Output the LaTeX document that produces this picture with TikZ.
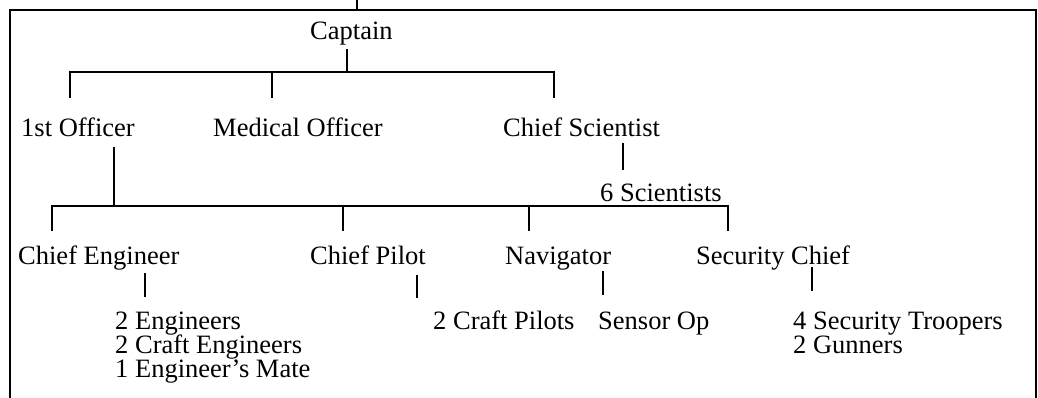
\documentclass[tikz,border=0pt]{standalone}
\usepackage{fontspec}
\setmainfont{Liberation Serif}
\begin{document}
\begin{tikzpicture}[x=1pt,y=-1pt,
  lbl/.style={anchor=base west, inner sep=0pt, font=\fontsize{26.5}{24}\selectfont},
  link/.style={line width=2pt, draw=black},
  frame/.style={line width=2.2pt, draw=black}]
\useasboundingbox (0,0) rectangle (1038,398);
% frame, open at the bottom
\coordinate (frBL) at (10,398);
\coordinate (frTL) at (10,10);
\coordinate (frTR) at (1036,10);
\coordinate (frBR) at (1036,398);
\coordinate (topIn) at (357,0);
\coordinate (topJ) at (357,10);
\draw[frame] (frBL) -- (frTL) -- (frTR) -- (frBR);
\draw[link] (topIn) -- (topJ);

% labels
\node[lbl] (captain) at (310,40) {Captain};
\node[lbl] (first) at (21,137) {1st Officer};
\node[lbl] (medical) at (213,137) {Medical Officer};
\node[lbl] (chiefsci) at (503,137) {Chief Scientist};
\node[lbl] (sci) at (600,201) {6 Scientists};
\node[lbl] (chiefeng) at (18,264) {Chief Engineer};
\node[lbl] (chiefpilot) at (310,264) {Chief Pilot};
\node[lbl] (navigator) at (505,264) {Navigator};
\node[lbl] (secchief) at (696,264) {Security Chief};
\node[lbl] (engA) at (115,329) {2 Engineers};
\node[lbl] (engB) at (115,353) {2 Craft Engineers};
\node[lbl] (engC) at (115,377) {1 Engineer's Mate};
\node[lbl] (pilots) at (433,329) {2 Craft Pilots};
\node[lbl] (sensor) at (598,329) {Sensor Op};
\node[lbl] (secA) at (793,329) {4 Security Troopers};
\node[lbl] (secB) at (793,353) {2 Gunners};

% junction points
\coordinate (capS) at (347,49);
\coordinate (capJ) at (347,72);
\coordinate (barL) at (70,72);
\coordinate (barR) at (554,72);
\coordinate (firstN) at (70,98);
\coordinate (medJ) at (272,72);
\coordinate (medN) at (272,98);
\coordinate (sciN) at (554,98);
\coordinate (firstS) at (114,147);
\coordinate (firstJ) at (114,206);
\coordinate (csS) at (623,143);
\coordinate (csE) at (623,170);
\coordinate (bar2L) at (52,206);
\coordinate (bar2R) at (728,206);
\coordinate (ceN) at (52,231);
\coordinate (cpJ) at (343,206);
\coordinate (cpN) at (343,231);
\coordinate (navJ) at (529,206);
\coordinate (navN) at (529,231);
\coordinate (scN) at (728,231);
\coordinate (ceS) at (145,273);
\coordinate (ceE) at (145,297);
\coordinate (cpS) at (417,275);
\coordinate (cpE) at (417,298);
\coordinate (navS) at (603,271);
\coordinate (navE) at (603,295);
\coordinate (scS) at (812,267);
\coordinate (scE) at (812,291);

% connectors
\draw[link] (capS) -- (capJ);
\draw[link] (firstN) -- (barL) -- (barR) -- (sciN);
\draw[link] (medJ) -- (medN);
\draw[link] (firstS) -- (firstJ);
\draw[link] (csS) -- (csE);
\draw[link] (ceN) -- (bar2L) -- (bar2R) -- (scN);
\draw[link] (cpJ) -- (cpN);
\draw[link] (navJ) -- (navN);
\draw[link] (ceS) -- (ceE);
\draw[link] (cpS) -- (cpE);
\draw[link] (navS) -- (navE);
\draw[link] (scS) -- (scE);
\end{tikzpicture}
\end{document}
